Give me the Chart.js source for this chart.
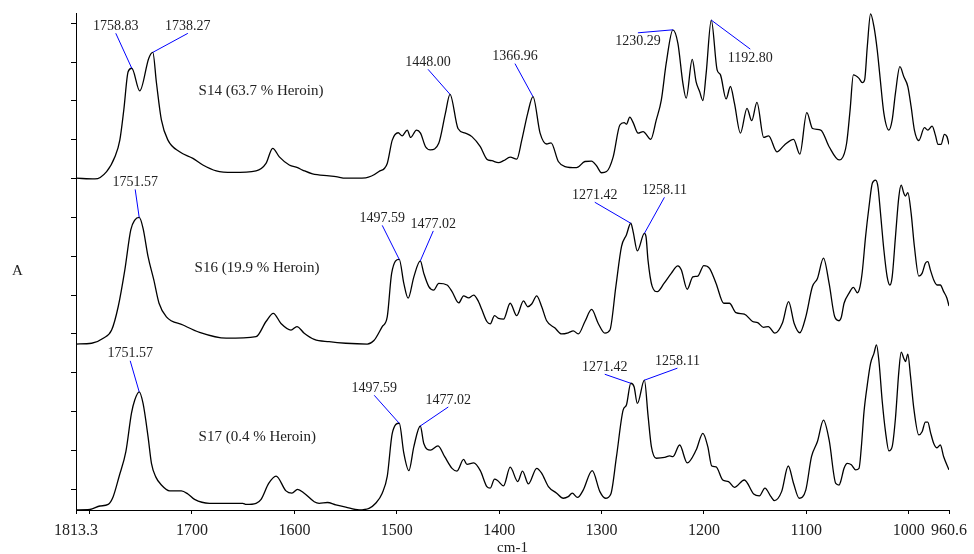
<!DOCTYPE html>
<html>
<head>
<meta charset="utf-8">
<title>IR spectra S14 / S16 / S17</title>
<script src="https://cdn.jsdelivr.net/npm/chart.js@4.4.1/dist/chart.umd.min.js"></script>
<style>
  html, body { margin: 0; padding: 0; background: #fff; }
  #wrap { width: 974px; height: 554px; position: relative; }
</style>
</head>
<body>
<div id="wrap"><canvas id="spectra"></canvas></div>
<script>
// x ticks (cm-1), 1800 has a mark but no label
const xTickValues = [1813.3, 1800, 1700, 1600, 1500, 1400, 1300, 1200, 1100, 1000, 960.6];
const xTickLabels = ["1813.3", "", "1700", "1600", "1500", "1400", "1300", "1200", "1100", "1000", "960.6"];
const yTickValues = [0, 0.1, 0.2, 0.3, 0.4, 0.5, 0.6, 0.7, 0.8, 0.9, 1.0, 1.1, 1.2];

const seriesNames = ["S14 (63.7 % Heroin)", "S16 (19.9 % Heroin)", "S17 (0.4 % Heroin)"];

// [wavenumber, absorbance as plotted (stacked)]
const s14 = [
  [1813.3, 0.801], [1794.8, 0.799], [1783.4, 0.818], [1775.3, 0.856], [1770.5, 0.899], [1766.6, 0.977],
  [1762.4, 1.075], [1758.83, 1.084], [1751.0, 1.026], [1742.2, 1.110], [1738.27, 1.125], [1734.7, 1.046],
  [1729.9, 0.951], [1723.5, 0.899], [1712.1, 0.869], [1699.1, 0.852], [1689.4, 0.835], [1676.3, 0.820],
  [1660.2, 0.816], [1637.4, 0.820], [1627.7, 0.839], [1621.2, 0.878], [1614.7, 0.856], [1605.0, 0.835],
  [1596.9, 0.828], [1592.0, 0.822], [1582.3, 0.812], [1566.1, 0.807], [1559.5, 0.805], [1549.8, 0.801],
  [1530.3, 0.802], [1517.4, 0.818], [1509.3, 0.839], [1504.4, 0.899], [1498.6, 0.918], [1494.7, 0.910],
  [1489.8, 0.925], [1486.5, 0.906], [1480.7, 0.925], [1476.8, 0.917], [1471.9, 0.882], [1467.1, 0.874],
  [1459.0, 0.891], [1452.5, 0.968], [1448.0, 1.017], [1440.2, 0.929], [1433.0, 0.917], [1426.6, 0.908],
  [1418.4, 0.882], [1412.0, 0.850], [1407.1, 0.846], [1400.6, 0.841], [1395.7, 0.846], [1389.2, 0.855],
  [1382.8, 0.850], [1377.9, 0.899], [1372.1, 0.968], [1366.96, 1.011], [1360.0, 0.917], [1353.6, 0.889],
  [1349.3, 0.892], [1342.2, 0.844], [1335.7, 0.831], [1324.4, 0.828], [1316.2, 0.844], [1309.8, 0.845],
  [1304.9, 0.833], [1300.0, 0.815], [1295.1, 0.818], [1288.6, 0.856], [1282.1, 0.938], [1277.9, 0.944],
  [1275.7, 0.940], [1272.4, 0.958], [1269.1, 0.944], [1264.3, 0.917], [1259.4, 0.921], [1251.9, 0.901],
  [1246.5, 0.951], [1241.6, 1.002], [1236.8, 1.097], [1230.29, 1.183], [1225.4, 1.148], [1220.5, 1.045],
  [1217.3, 1.007], [1211.4, 1.107], [1207.6, 1.049], [1204.2, 1.024], [1201.0, 1.001], [1197.8, 1.071],
  [1192.8, 1.208], [1187.1, 1.080], [1183.8, 1.067], [1178.3, 1.005], [1174.1, 1.037], [1170.2, 0.994],
  [1164.3, 0.917], [1157.9, 0.981], [1153.3, 0.949], [1148.2, 0.996], [1141.6, 0.906], [1136.8, 0.910],
  [1128.7, 0.869], [1121.5, 0.886], [1112.4, 0.901], [1106.3, 0.863], [1099.5, 0.970], [1093.9, 0.929],
  [1085.9, 0.925], [1077.7, 0.882], [1068.0, 0.848], [1065.7, 0.850], [1060.6, 0.891], [1057.2, 0.977],
  [1054.0, 1.067], [1048.5, 1.058], [1045.3, 1.047], [1043.0, 1.054], [1040.4, 1.140], [1037.2, 1.224],
  [1033.9, 1.191], [1030.7, 1.131], [1028.0, 1.062], [1024.2, 0.968], [1019.3, 0.925], [1016.1, 0.951],
  [1012.9, 1.020], [1008.6, 1.088], [1004.7, 1.062], [1000.8, 1.037], [997.6, 0.985], [994.4, 0.925],
  [990.1, 0.898], [984.6, 0.931], [981.3, 0.925], [977.1, 0.935], [973.9, 0.912], [971.3, 0.888],
  [968.4, 0.888], [965.1, 0.914], [962.6, 0.908], [960.6, 0.888]
];

const s16 = [
  [1813.3, 0.374], [1798.0, 0.376], [1786.7, 0.389], [1778.5, 0.410], [1772.1, 0.470], [1765.6, 0.565],
  [1759.8, 0.668], [1755.9, 0.693], [1751.57, 0.700], [1747.8, 0.672], [1742.9, 0.599], [1737.3, 0.539],
  [1732.2, 0.479], [1725.0, 0.444], [1708.8, 0.423], [1692.6, 0.404], [1666.6, 0.389], [1637.4, 0.393],
  [1627.7, 0.432], [1620.6, 0.453], [1613.1, 0.427], [1603.3, 0.410], [1597.5, 0.419], [1590.4, 0.402],
  [1580.6, 0.386], [1566.1, 0.380], [1549.8, 0.376], [1528.8, 0.374], [1522.3, 0.383], [1514.2, 0.419],
  [1509.3, 0.444], [1505.0, 0.556], [1497.59, 0.592], [1493.1, 0.530], [1488.9, 0.492], [1483.3, 0.547],
  [1477.02, 0.588], [1473.6, 0.556], [1468.7, 0.522], [1463.9, 0.513], [1459.0, 0.530], [1450.9, 0.526],
  [1446.0, 0.509], [1439.5, 0.480], [1434.7, 0.498], [1429.8, 0.493], [1424.9, 0.500], [1420.1, 0.483],
  [1416.8, 0.462], [1412.0, 0.432], [1408.7, 0.426], [1404.5, 0.447], [1400.6, 0.440], [1395.7, 0.438],
  [1389.2, 0.479], [1382.8, 0.447], [1376.2, 0.485], [1372.1, 0.470], [1368.2, 0.477], [1363.3, 0.498],
  [1358.4, 0.470], [1353.6, 0.434], [1345.4, 0.415], [1339.0, 0.400], [1332.5, 0.403], [1327.6, 0.408],
  [1322.7, 0.400], [1316.2, 0.432], [1309.7, 0.463], [1303.2, 0.427], [1296.7, 0.402], [1291.8, 0.410],
  [1286.0, 0.522], [1280.5, 0.625], [1275.7, 0.655], [1271.42, 0.685], [1269.1, 0.663], [1265.0, 0.614],
  [1258.11, 0.659], [1256.5, 0.650], [1254.6, 0.590], [1250.6, 0.523], [1245.5, 0.509], [1239.0, 0.530],
  [1231.9, 0.556], [1225.4, 0.575], [1222.1, 0.565], [1216.3, 0.515], [1210.8, 0.547], [1205.9, 0.549],
  [1200.1, 0.576], [1194.5, 0.569], [1188.1, 0.530], [1180.6, 0.479], [1175.1, 0.479], [1168.7, 0.455],
  [1160.5, 0.451], [1152.4, 0.432], [1147.5, 0.429], [1141.7, 0.417], [1137.1, 0.419], [1130.7, 0.402],
  [1123.2, 0.429], [1117.3, 0.483], [1111.8, 0.427], [1106.3, 0.403], [1100.5, 0.444], [1094.0, 0.522],
  [1089.1, 0.543], [1083.2, 0.595], [1077.7, 0.530], [1072.2, 0.444], [1068.0, 0.434], [1065.7, 0.444],
  [1063.1, 0.479], [1058.2, 0.505], [1054.0, 0.520], [1050.1, 0.506], [1047.5, 0.522], [1045.3, 0.560],
  [1042.1, 0.650], [1038.7, 0.728], [1035.5, 0.788], [1032.3, 0.796], [1030.0, 0.779], [1027.5, 0.711],
  [1024.2, 0.616], [1021.0, 0.547], [1018.3, 0.526], [1016.1, 0.547], [1012.9, 0.650], [1009.6, 0.753],
  [1007.3, 0.783], [1004.7, 0.762], [1003.1, 0.755], [1000.8, 0.764], [997.6, 0.711], [994.4, 0.625],
  [990.1, 0.549], [986.9, 0.556], [983.7, 0.582], [981.3, 0.586], [978.8, 0.565], [975.5, 0.539],
  [972.3, 0.526], [969.1, 0.526], [965.8, 0.509], [962.6, 0.492], [960.6, 0.472]
];

const s17 = [
  [1813.3, -0.053], [1799.7, -0.052], [1789.9, -0.043], [1781.9, -0.039], [1777.0, -0.019], [1771.2, 0.033],
  [1764.6, 0.097], [1759.1, 0.196], [1755.9, 0.230], [1751.57, 0.251], [1747.8, 0.221], [1742.9, 0.135],
  [1739.6, 0.067], [1735.4, 0.032], [1729.9, 0.011], [1721.8, -0.004], [1710.4, -0.004], [1704.0, -0.012],
  [1697.5, -0.026], [1682.9, -0.036], [1650.4, -0.036], [1647.1, -0.039], [1637.4, -0.036], [1632.5, -0.026],
  [1625.1, 0.015], [1617.9, 0.034], [1608.2, -0.004], [1602.4, -0.010], [1596.9, 0.000], [1590.4, -0.010],
  [1580.6, -0.032], [1575.8, -0.036], [1567.7, -0.034], [1559.5, -0.040], [1549.8, -0.046], [1536.8, -0.053],
  [1527.1, -0.049], [1520.6, -0.036], [1514.2, -0.010], [1509.3, 0.033], [1504.4, 0.144], [1497.59, 0.170],
  [1493.1, 0.093], [1488.2, 0.048], [1483.3, 0.110], [1477.02, 0.163], [1473.6, 0.118], [1467.1, 0.101],
  [1459.7, 0.112], [1453.2, 0.084], [1446.0, 0.054], [1441.2, 0.047], [1434.7, 0.077], [1431.4, 0.064],
  [1424.9, 0.068], [1418.4, 0.048], [1412.0, 0.007], [1408.7, 0.003], [1404.5, 0.026], [1401.3, 0.022],
  [1395.7, 0.009], [1389.2, 0.057], [1381.8, 0.020], [1377.2, 0.047], [1371.4, 0.014], [1363.3, 0.054],
  [1358.4, 0.041], [1351.9, 0.007], [1343.8, -0.010], [1337.3, -0.023], [1332.5, -0.019], [1328.6, -0.010],
  [1323.4, -0.021], [1317.9, -0.002], [1309.1, 0.048], [1301.6, -0.006], [1296.2, -0.023], [1290.9, -0.012],
  [1285.4, 0.084], [1278.9, 0.204], [1275.7, 0.217], [1271.42, 0.273], [1268.2, 0.264], [1265.0, 0.221],
  [1258.11, 0.281], [1254.6, 0.191], [1251.3, 0.110], [1246.5, 0.080], [1238.3, 0.082], [1233.4, 0.086],
  [1230.2, 0.084], [1223.7, 0.114], [1216.3, 0.068], [1207.6, 0.101], [1201.0, 0.144], [1196.2, 0.110],
  [1192.3, 0.060], [1188.1, 0.058], [1181.6, 0.024], [1176.0, 0.020], [1170.2, 0.005], [1160.5, 0.024],
  [1151.4, -0.012], [1145.8, -0.017], [1140.4, 0.003], [1134.5, -0.019], [1131.2, -0.029], [1124.1, -0.006],
  [1117.6, 0.060], [1112.4, 0.015], [1106.9, -0.023], [1100.5, -0.002], [1094.9, 0.084], [1089.1, 0.123],
  [1083.2, 0.178], [1077.7, 0.127], [1071.2, 0.015], [1068.0, 0.011], [1066.4, 0.020], [1063.1, 0.054],
  [1059.9, 0.067], [1056.0, 0.063], [1051.8, 0.050], [1048.5, 0.054], [1046.3, 0.106], [1043.6, 0.200],
  [1040.4, 0.269], [1037.2, 0.324], [1033.9, 0.350], [1031.4, 0.372], [1029.0, 0.329], [1025.8, 0.226],
  [1022.6, 0.148], [1019.3, 0.099], [1016.1, 0.110], [1012.9, 0.183], [1009.6, 0.303], [1007.3, 0.353],
  [1004.7, 0.337], [1003.1, 0.329], [1000.8, 0.348], [998.3, 0.294], [995.0, 0.209], [990.1, 0.140],
  [986.9, 0.148], [983.7, 0.173], [981.3, 0.173], [978.8, 0.148], [975.5, 0.118], [972.3, 0.107],
  [969.1, 0.114], [965.8, 0.084], [960.6, 0.050]
];

const allSeries = [s14, s16, s17];

// labelled peaks: series index + wavenumber
const peakSeries = [0, 0, 0, 0, 0, 0, 1, 1, 1, 1, 1, 2, 2, 2, 2, 2];
const peakWn = [1758.83, 1738.27, 1448.00, 1366.96, 1230.29, 1192.80,
  1751.57, 1497.59, 1477.02, 1271.42, 1258.11,
  1751.57, 1497.59, 1477.02, 1271.42, 1258.11];

// label offsets from the peak, in px
const peakOffsets = [[-16, -42], [35, -26], [-22, -32], [-18, -40], [-35, 12], [39, 38],
  [-4, -35], [-17, -41], [13, -37], [-36, -28], [20, -43],
  [-9, -38], [-25, -35], [28, -26], [-26, -16], [33, -19]];

const SERIF = "'Liberation Serif', 'Times New Roman', serif";

function valueAt(series, wn) {
  for (let i = 0; i < series.length - 1; i++) {
    const [x0, y0] = series[i];
    const [x1, y1] = series[i + 1];
    if (wn <= x0 && wn >= x1) {
      return y0 + (y1 - y0) * (x0 - wn) / (x0 - x1);
    }
  }
  return series[series.length - 1][1];
}

const spectrumNotes = {
  id: "spectrumNotes",
  afterDatasetsDraw(chart) {
    const { ctx, chartArea, scales: { x, y } } = chart;
    ctx.save();
    ctx.textAlign = "center";
    ctx.textBaseline = "middle";
    ctx.font = `14px ${SERIF}`;

    peakWn.forEach((wn, i) => {
      const px = x.getPixelForValue(wn);
      const py = y.getPixelForValue(valueAt(allSeries[peakSeries[i]], wn));
      const [dx, dy] = peakOffsets[i];
      const lx = px + dx;
      const ly = py + dy;
      const endY = dy > 0 ? ly - 9 : ly + 7;

      ctx.strokeStyle = "#0000ff";
      ctx.lineWidth = 1;
      ctx.beginPath();
      ctx.moveTo(px, py);
      ctx.lineTo(lx, endY);
      ctx.stroke();

      ctx.fillStyle = "#222";
      ctx.fillText(wn.toFixed(2), lx, ly);
    });

    // sample names
    const namePos = [[1693.6, 1.025], [1697.5, 0.570], [1693.6, 0.135]];
    ctx.textAlign = "left";
    ctx.font = `15px ${SERIF}`;
    seriesNames.forEach((name, i) => {
      ctx.fillText(name, x.getPixelForValue(namePos[i][0]), y.getPixelForValue(namePos[i][1]));
    });

    // y title, upright
    ctx.textAlign = "center";
    ctx.fillText("A", chartArea.left - 58.5, (chartArea.top + chartArea.bottom) / 2 + 9.5);
    ctx.restore();
  }
};

new Chart(document.getElementById("spectra"), {
  type: "line",
  data: {
    datasets: allSeries.map((series, i) => ({
      label: seriesNames[i],
      data: series.map(([wn, a]) => ({ x: wn, y: a })),
      borderColor: "#000",
      borderWidth: 1.3,
      pointRadius: 0,
      cubicInterpolationMode: "monotone",
      fill: false
    }))
  },
  options: {
    responsive: true,
    maintainAspectRatio: false,
    animation: false,
    layout: { padding: { top: 13, right: 21.7, bottom: 0, left: 0 } },
    plugins: {
      legend: { display: false },
      tooltip: { enabled: false }
    },
    scales: {
      x: {
        type: "linear",
        reverse: true,
        min: 960.6,
        max: 1813.3,
        afterBuildTicks: (scale) => {
          scale.ticks = xTickValues.map((value) => ({ value }));
        },
        afterFit: (scale) => {
          scale.height = 44;
        },
        ticks: {
          autoSkip: false,
          maxRotation: 0,
          minRotation: 0,
          padding: 7,
          color: "#222",
          font: { family: SERIF, size: 16 },
          callback: (value, index) => xTickLabels[index]
        },
        grid: { drawOnChartArea: false, drawTicks: true, tickLength: 4, color: "#000" },
        border: { display: true, color: "#000", width: 1 },
        title: {
          display: true,
          text: "cm-1",
          color: "#222",
          font: { family: SERIF, size: 15, lineHeight: 1 },
          padding: { top: 0, bottom: -2 }
        }
      },
      y: {
        type: "linear",
        min: -0.0533,
        max: 1.2263,
        afterBuildTicks: (scale) => {
          scale.ticks = yTickValues.map((value) => ({ value }));
        },
        afterFit: (scale) => {
          scale.width = 76;
        },
        ticks: { callback: () => "" },
        grid: { drawOnChartArea: false, drawTicks: true, tickLength: 5, color: "#000" },
        border: { display: true, color: "#000", width: 1 }
      }
    }
  },
  plugins: [spectrumNotes]
});
</script>
</body>
</html>
